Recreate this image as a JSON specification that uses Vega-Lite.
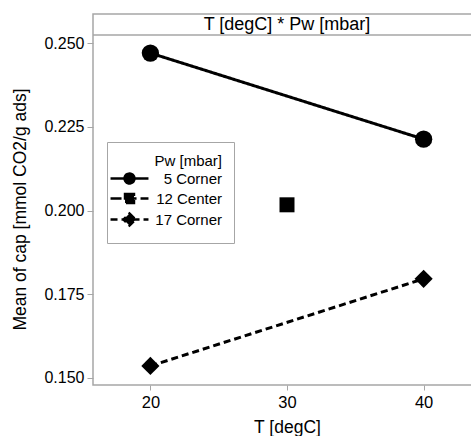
{
  "$schema": "https://vega.github.io/schema/vega-lite/v6.json",
  "width": 388,
  "height": 371,
  "padding": {"left": 5, "top": 14, "right": 0, "bottom": 0},
  "background": "white",
  "config": {
    "font": "Liberation Sans",
    "view": {"stroke": "#a6a6a6", "strokeWidth": 1.5}
  },
  "datasets": {
    "means": [
      {"T": 20, "series": "5 Corner", "cap": 0.2470},
      {"T": 40, "series": "5 Corner", "cap": 0.2213},
      {"T": 30, "series": "12 Center", "cap": 0.2017},
      {"T": 20, "series": "17 Corner", "cap": 0.1536},
      {"T": 40, "series": "17 Corner", "cap": 0.1796}
    ],
    "header": [
      {"label": "T [degC] * Pw [mbar]", "T": 30, "line": 0.2524, "mid": 0.2555}
    ]
  },
  "layer": [
    {
      "data": {"name": "means"},
      "mark": {"type": "line", "color": "black", "strokeWidth": 3},
      "encoding": {
        "x": {
          "field": "T", "type": "quantitative",
          "scale": {"domain": [15.8, 44.2], "nice": false, "zero": false},
          "axis": {
            "title": "T [degC]", "values": [20, 30, 40], "grid": false, "domain": false,
            "tickColor": "#a6a6a6", "tickSize": 5, "labelPadding": 4,
            "labelFontSize": 16.5, "labelColor": "black",
            "titleFontSize": 17.5, "titleFontWeight": "normal", "titleColor": "black",
            "titleBaseline": "top", "titleY": 33
          }
        },
        "y": {
          "field": "cap", "type": "quantitative",
          "scale": {"domain": [0.14791, 0.25866], "nice": false, "zero": false},
          "axis": {
            "title": "Mean of cap [mmol CO2/g ads]", "values": [0.15, 0.175, 0.2, 0.225, 0.25],
            "format": ".3f", "grid": false, "domain": false,
            "tickColor": "#a6a6a6", "tickSize": 6, "labelPadding": 3,
            "labelFontSize": 16, "labelColor": "black",
            "titleFontSize": 17.5, "titleFontWeight": "normal", "titleColor": "black",
            "titleAngle": 270, "titleBaseline": "middle", "titleX": -73, "titleY": 195,
            "minExtent": 88, "maxExtent": 88
          }
        },
        "strokeDash": {
          "field": "series", "type": "nominal",
          "scale": {"domain": ["5 Corner", "12 Center", "17 Corner"], "range": [[1, 0], [11, 4], [7, 4]]},
          "legend": {
            "orient": "none", "legendX": 14, "legendY": 128,
            "title": "Pw [mbar]", "titleFontSize": 15, "titleFontWeight": "normal", "titleColor": "black",
            "titleAnchor": "end", "titleAlign": "right", "titlePadding": 1,
            "labelFontSize": 15, "labelColor": "black", "labelAlign": "right", "labelOffset": 84, "labelLimit": 300,
            "symbolType": "M-2.71,0H2.71",
            "symbolSize": 196, "symbolOffset": 2, "symbolStrokeWidth": 2.5, "symbolStrokeColor": "black", "symbolFillColor": "black",
            "strokeColor": "#a6a6a6", "fillColor": "white", "padding": 12, "rowPadding": 0,
            "encode": {
              "symbols": {
                "update": {
                  "shape": {"signal": "datum.value === '5 Corner' ? 'M-2.71,0H2.71M0.71,0A0.71,0.71,0,1,1,-0.71,0A0.71,0.71,0,1,1,0.71,0Z' : datum.value === '12 Center' ? 'M-2.71,0H2.71M-0.64,-0.64H0.64V0.64H-0.64Z' : 'M-2.71,0H2.71M0,-0.86L0.86,0L0,0.86L-0.86,0Z'"},
                  "fill": {"value": "black"},
                  "stroke": {"value": "black"},
                  "strokeWidth": {"value": 2.5},
                  "opacity": {"value": 1}
                }
              }
            }
          }
        }
      }
    },
    {
      "data": {"name": "header"},
      "mark": {"type": "rule", "color": "#a6a6a6", "strokeWidth": 1.5},
      "encoding": {"y": {"field": "line", "type": "quantitative"}}
    },
    {
      "data": {"name": "header"},
      "mark": {"type": "text", "fontSize": 18, "fontWeight": "normal", "color": "black", "baseline": "middle", "align": "center"},
      "encoding": {
        "x": {"field": "T", "type": "quantitative"},
        "y": {"field": "mid", "type": "quantitative"},
        "text": {"field": "label", "type": "nominal"}
      }
    },
    {
      "data": {"name": "means"},
      "transform": [{"filter": "datum.series === '5 Corner'"}],
      "mark": {"type": "point", "shape": "circle", "size": 300, "filled": true, "color": "black", "opacity": 1},
      "encoding": {"x": {"field": "T", "type": "quantitative"}, "y": {"field": "cap", "type": "quantitative"}}
    },
    {
      "data": {"name": "means"},
      "transform": [{"filter": "datum.series === '12 Center'"}],
      "mark": {"type": "point", "shape": "square", "size": 225, "filled": true, "color": "black", "opacity": 1},
      "encoding": {"x": {"field": "T", "type": "quantitative"}, "y": {"field": "cap", "type": "quantitative"}}
    },
    {
      "data": {"name": "means"},
      "transform": [{"filter": "datum.series === '17 Corner'"}],
      "mark": {"type": "point", "shape": "diamond", "size": 330, "filled": true, "color": "black", "opacity": 1},
      "encoding": {"x": {"field": "T", "type": "quantitative"}, "y": {"field": "cap", "type": "quantitative"}}
    }
  ]
}
